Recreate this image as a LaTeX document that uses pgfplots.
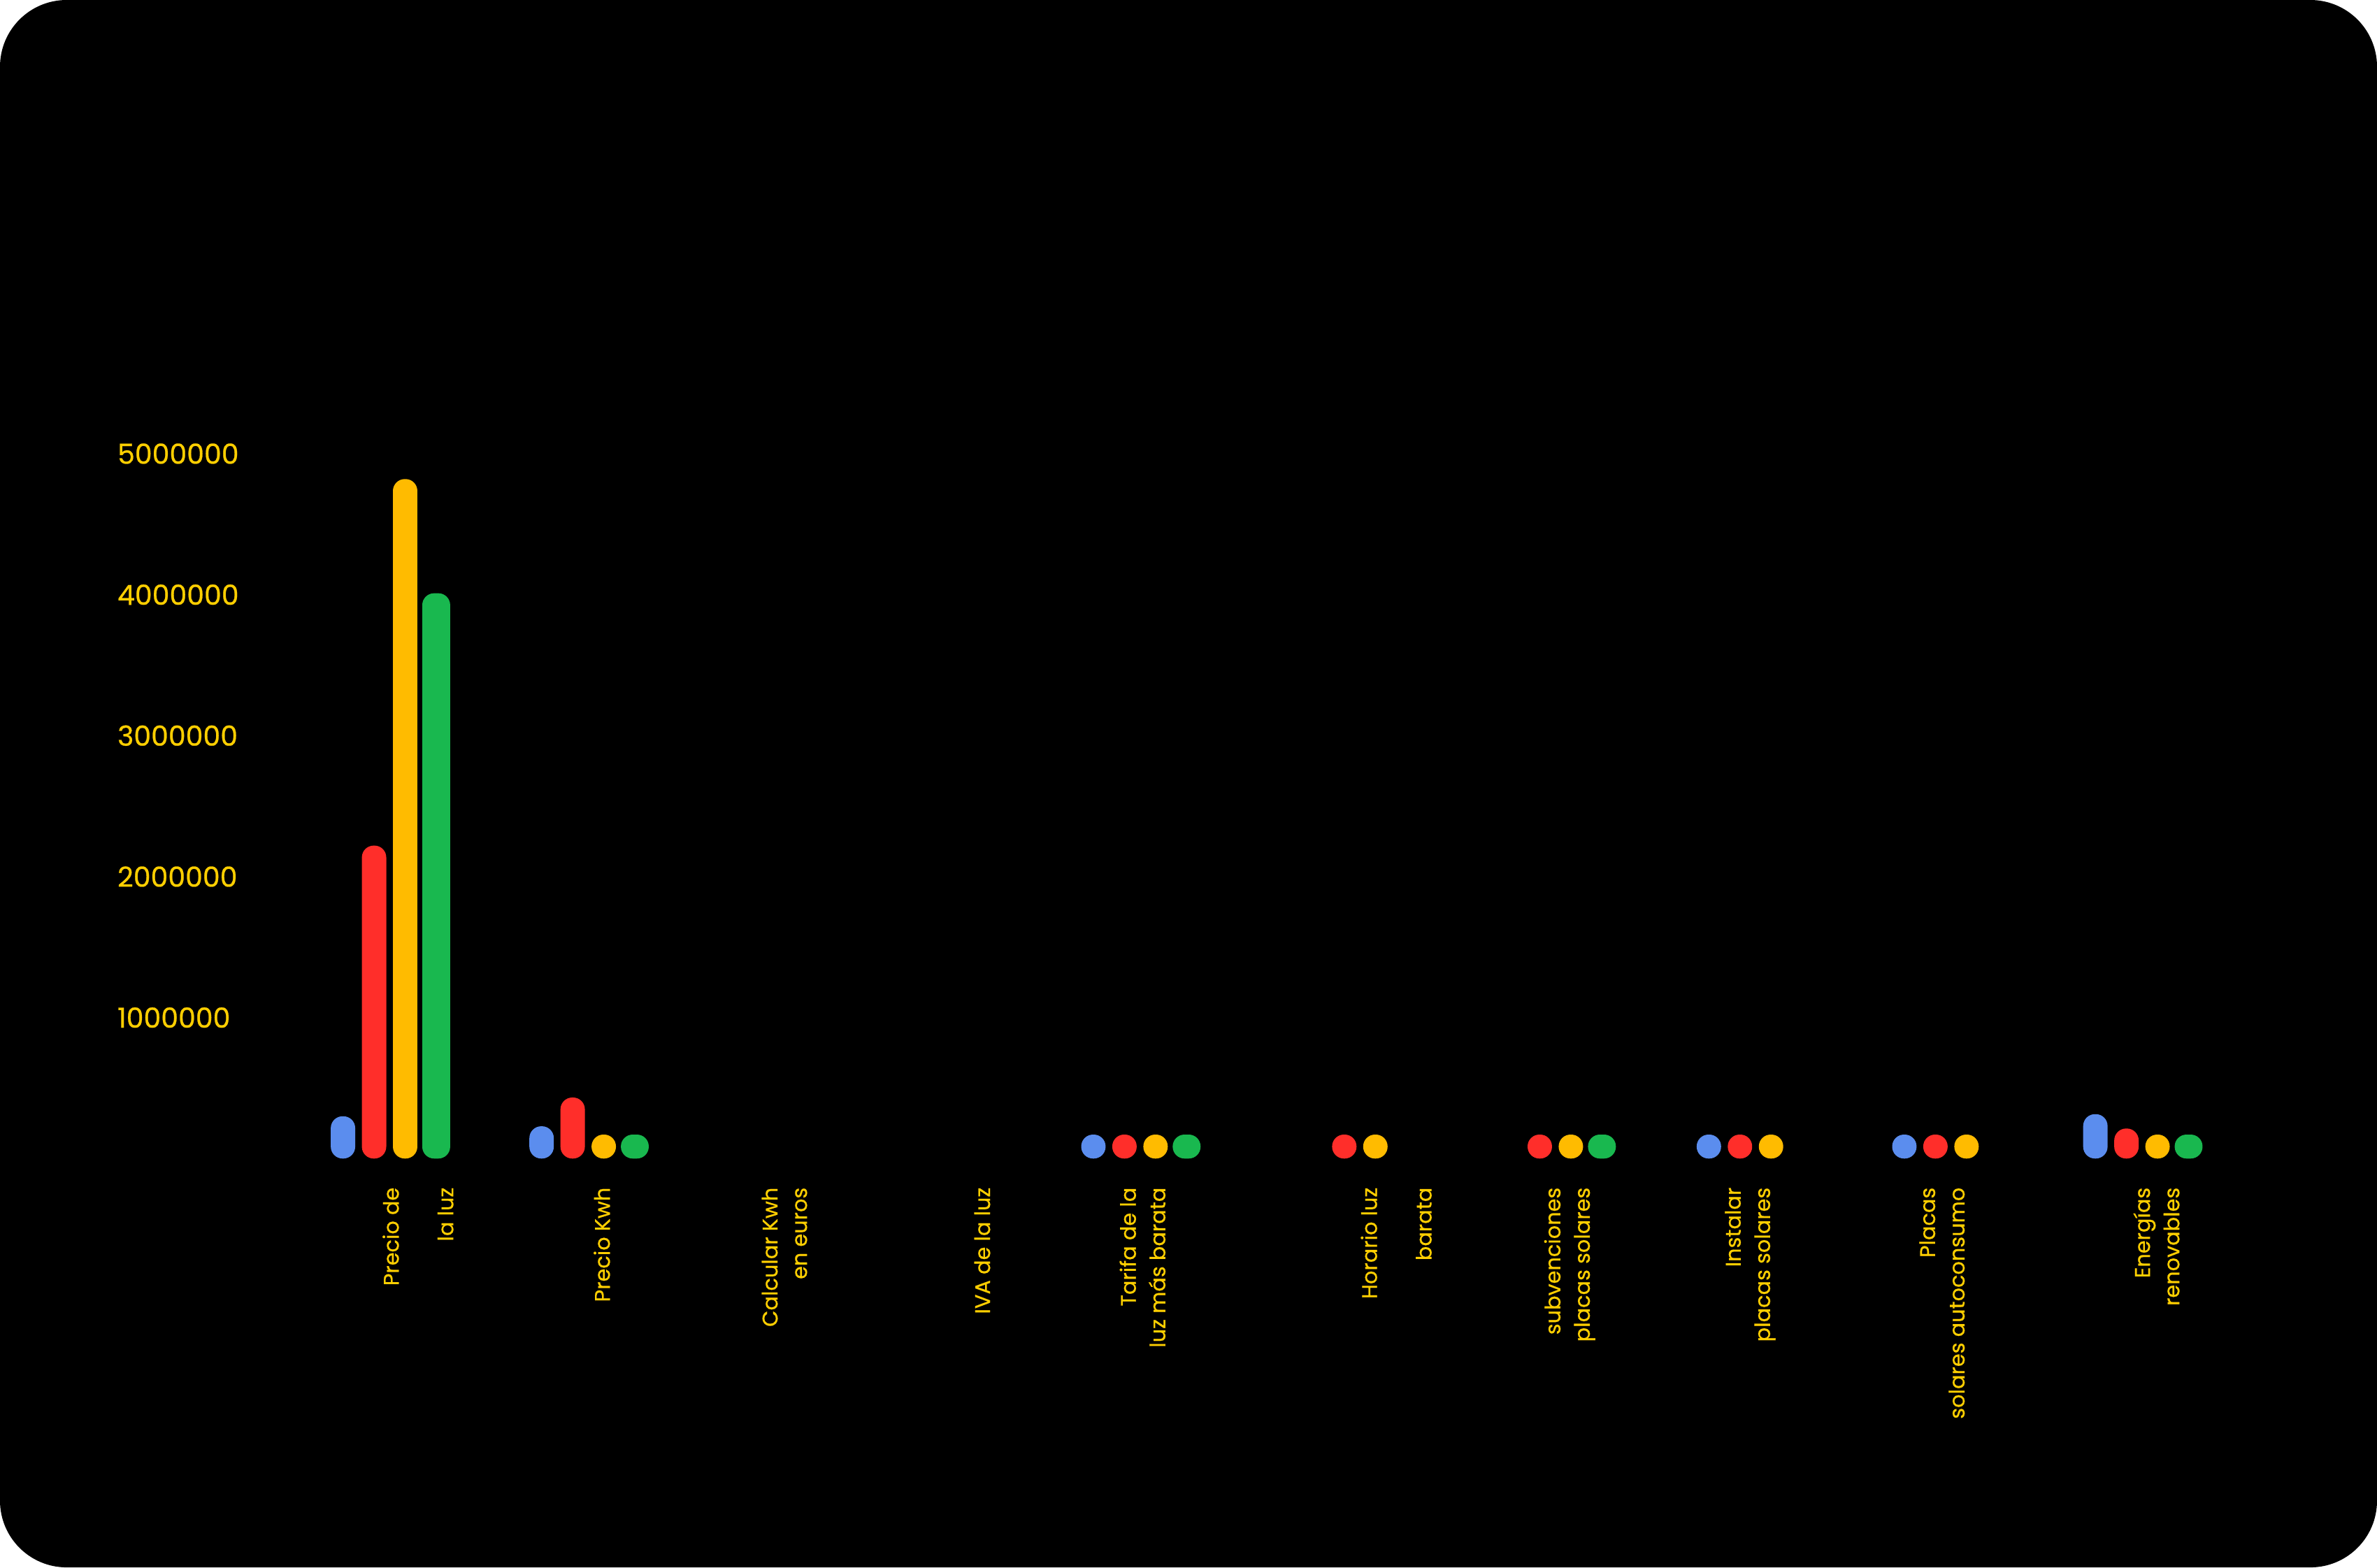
\documentclass[border=0pt]{standalone}
\usepackage{pgfplots}
\usepackage{pgfplotstable}
\pgfplotsset{compat=1.18}
\usepackage{fontspec}
\setmainfont{Poppins}[FakeBold=0.6]
\definecolor{gblue}{HTML}{5B8DEE}
\definecolor{gred}{HTML}{FF2E2A}
\definecolor{gyellow}{HTML}{FFBB00}
\definecolor{ggreen}{HTML}{19B84F}
\definecolor{txt}{HTML}{FFCF00}

% x = category position, y = value
\pgfplotstableread{
x y
0.000 300000
1.020 229000
3.854 170000
7.015 170000
8.019 170000
9.000 315000
}\blueT
\pgfplotstableread{
x y
0.000 2220000
1.020 433000
3.854 170000
4.983 170000
5.987 170000
7.015 170000
8.019 170000
9.000 213000
}\redT
\pgfplotstableread{
x y
0.000 4820000
1.020 170000
3.854 170000
4.983 170000
5.987 170000
7.015 170000
8.019 170000
9.000 170000
}\yellowT
\pgfplotstableread{
x y
0.000 4010000
1.020 170000
3.854 170000
5.987 170000
9.000 170000
}\greenT

\begin{document}
\begin{tikzpicture}
\useasboundingbox (0,0) rectangle (784pt,517pt);
\fill[black, rounded corners=22pt] (0,0) rectangle (784pt,517pt);
\begin{axis}[
  at={(0.06pt,134.85pt)}, anchor=south west,
  scale only axis, width=770.64pt, height=255.75pt,
  xmin=-2, xmax=10, ymin=0, ymax=5500000,
  clip=false,
  scaled y ticks=false,
  axis line style={draw=none},
  tick style={draw=none},
  ytick={1000000,2000000,3000000,4000000,5000000},
  yticklabels={1000000,2000000,3000000,4000000,5000000},
  xtick={0.146,1.090,2.028,3.044,3.867,5.170,6.061,6.988,7.973,9.074},
  xticklabels={
    {Precio de\\[8.3pt]la luz},
    {Precio Kwh},
    {Calcular Kwh\\en euros},
    {IVA de la luz},
    {Tarifa de la\\luz más barata},
    {Horario luz\\[8.3pt]barata},
    {subvenciones\\placas solares},
    {Instalar\\placas solares},
    {Placas\\solares autoconsumo},
    {Energías\\renovables}},
  tick label style={text=txt},
  yticklabel style={anchor=west, inner sep=0pt, xshift=38.5pt, font=\fontsize{9.1}{10}\selectfont},
  xticklabel shift=9.35pt,
  xticklabel style={rotate=90, anchor=east, align=right, inner sep=0pt, font=\fontsize{7.0}{9.7}\selectfont},
]
\addplot[ybar, bar width=8.05pt, bar shift=-15.375pt, draw=none, fill=gblue, rounded corners=3.9pt] table {\blueT};
\addplot[ybar, bar width=8.05pt, bar shift=-5.125pt, draw=none, fill=gred, rounded corners=3.9pt] table {\redT};
\addplot[ybar, bar width=8.05pt, bar shift=5.125pt, draw=none, fill=gyellow, rounded corners=3.9pt] table {\yellowT};
\addplot[ybar, bar width=9.2pt, bar shift=15.375pt, draw=none, fill=ggreen, rounded corners=3.9pt] table {\greenT};
\end{axis}
\end{tikzpicture}
\end{document}
